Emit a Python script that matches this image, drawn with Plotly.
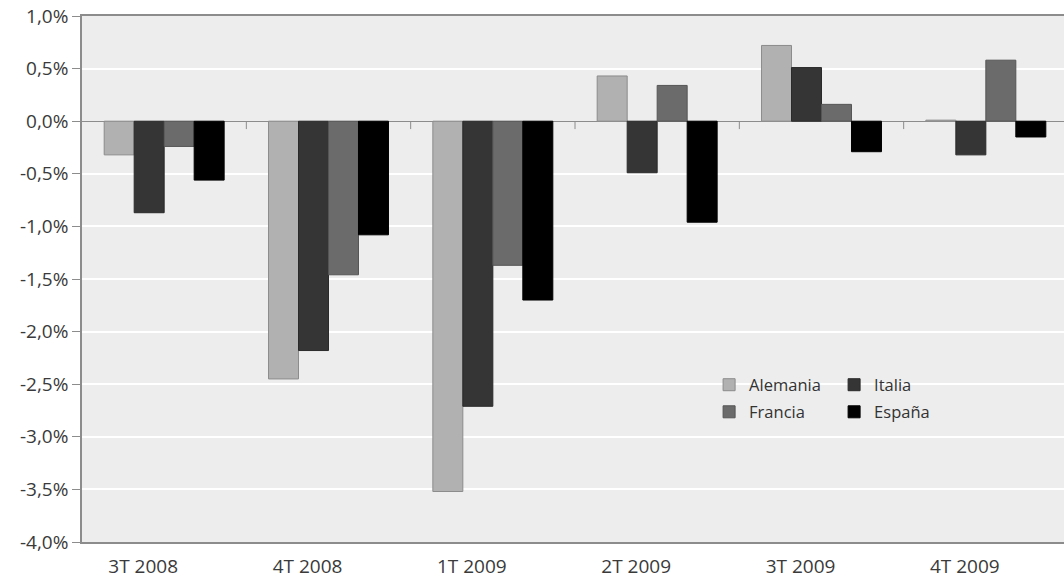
import plotly.graph_objects as go

# Quarterly GDP change (%) by country
quarters = ["3T 2008", "4T 2008", "1T 2009", "2T 2009", "3T 2009", "4T 2009"]
alemania = [-0.32, -2.45, -3.52, 0.43, 0.72, 0.01]
italia = [-0.87, -2.18, -2.71, -0.49, 0.51, -0.32]
francia = [-0.24, -1.46, -1.37, 0.34, 0.16, 0.58]
espana = [-0.56, -1.08, -1.70, -0.96, -0.29, -0.15]

y_ticks = [1.0, 0.5, 0.0, -0.5, -1.0, -1.5, -2.0, -2.5, -3.0, -3.5, -4.0]
y_labels = ["1,0%", "0,5%", "0,0%", "-0,5%", "-1,0%", "-1,5%", "-2,0%",
            "-2,5%", "-3,0%", "-3,5%", "-4,0%"]

series = [
    ("Alemania", alemania, "#b1b1b1", "#8c8c8c", "legend"),
    ("Italia", italia, "#353535", "#2a2a2a", "legend"),
    ("Francia", francia, "#6b6b6b", "#555555", "legend2"),
    ("España", espana, "#000000", "#000000", "legend2"),
]

positions = list(range(len(quarters)))
dividers = [i + 0.5 for i in positions[:-1]]

font_family = "Open Sans, Noto Sans, sans-serif"
axis_grey = "#8c8c8c"
text_grey = "#3a3a3a"

fig = go.Figure()
for name, vals, fill, edge, leg in series:
    fig.add_trace(go.Bar(
        x=positions, y=vals, name=name,
        marker=dict(color=fill, line=dict(color=edge, width=1)),
        legend=leg,
    ))

# short divider ticks hanging from the zero line between quarters
fig.add_trace(go.Scatter(
    x=dividers, y=[0.0] * len(dividers), mode="markers",
    marker=dict(size=1, color="rgba(0,0,0,0)"),
    error_y=dict(type="data", symmetric=False,
                 array=[0.0] * len(dividers),
                 arrayminus=[0.075] * len(dividers),
                 width=0, thickness=1, color=axis_grey),
    showlegend=False, hoverinfo="skip",
))

fig.update_layout(
    width=1068, height=586,
    margin=dict(l=82, r=0, t=16, b=44),
    paper_bgcolor="white",
    plot_bgcolor="#ededed",
    barmode="group",
    bargap=0.27,
    bargroupgap=0,
    font=dict(family=font_family, size=19, color=text_grey),
    xaxis=dict(
        range=[-0.5, len(quarters) - 0.5], automargin=False,
        tickvals=positions, ticktext=quarters,
        showline=True, linecolor=axis_grey, linewidth=1.5, mirror=True,
        ticks="", showgrid=False, zeroline=False,
        tickfont=dict(size=19, color=text_grey),
        ticklabelshift=-21,
        ticklabelstandoff=6,
    ),
    yaxis=dict(
        range=[-4.0, 1.0], automargin=False,
        tickvals=y_ticks, ticktext=y_labels,
        showline=True, linecolor=axis_grey, linewidth=1.5,
        ticks="outside", ticklen=8, tickcolor=axis_grey,
        showgrid=True, gridcolor="white", gridwidth=1.5,
        zeroline=True, zerolinecolor=axis_grey, zerolinewidth=1,
        tickfont=dict(size=19, color=text_grey),
    ),
    legend=dict(
        orientation="h", x=0.636, y=0.2985, xanchor="left", yanchor="middle",
        bgcolor="rgba(0,0,0,0)", entrywidth=80, entrywidthmode="pixels",
        font=dict(size=16.5, color="#333333"), itemwidth=30,
    ),
    legend2=dict(
        orientation="h", x=0.636, y=0.247, xanchor="left", yanchor="middle",
        bgcolor="rgba(0,0,0,0)", entrywidth=80, entrywidthmode="pixels",
        font=dict(size=16.5, color="#333333"), itemwidth=30,
    ),
)

# the plot area runs slightly past the page edge; keep the page from scrolling
fig.write_html(
    "out.html",
    post_script="document.documentElement.style.overflow='hidden';"
                "document.body.style.overflow='hidden';"
                "document.body.style.margin='0';",
)
